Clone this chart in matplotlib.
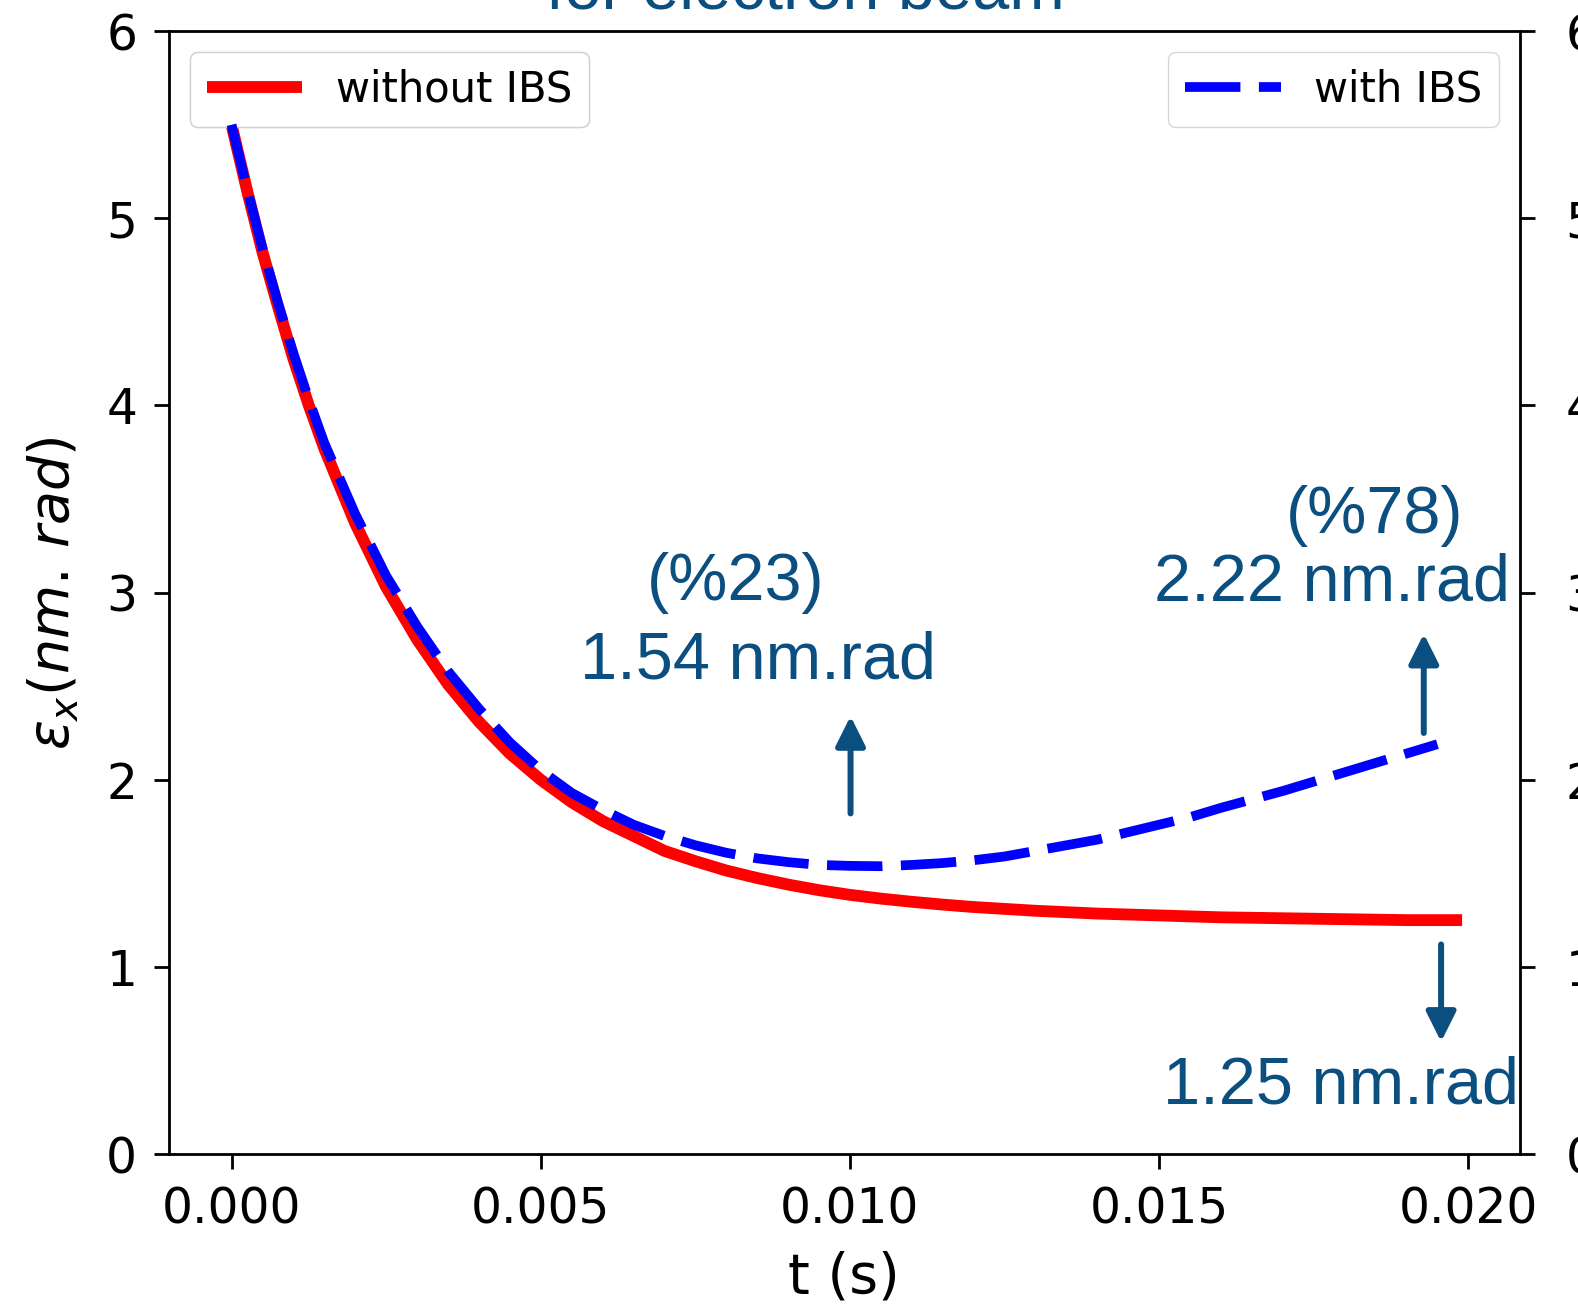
import numpy as np
import matplotlib
matplotlib.use("Agg")
import matplotlib.pyplot as plt

# emittance vs time
t_no = [0.0, 0.00025, 0.0005, 0.00075, 0.001, 0.00125, 0.0015, 0.00175, 0.002,
        0.0025, 0.003, 0.0035, 0.004, 0.0045, 0.005, 0.0055, 0.006, 0.0065, 0.007,
        0.0075, 0.008, 0.0085, 0.009, 0.0095, 0.010, 0.0105, 0.011, 0.0115, 0.012,
        0.013, 0.014, 0.015, 0.016, 0.017, 0.018, 0.019, 0.0199]
eps_no = [5.50, 5.15, 4.82, 4.53, 4.25, 4.00, 3.77, 3.57, 3.37,
          3.03, 2.75, 2.51, 2.31, 2.14, 2.00, 1.88, 1.78, 1.70, 1.62,
          1.565, 1.515, 1.475, 1.44, 1.41, 1.385, 1.365, 1.348, 1.333, 1.32,
          1.30, 1.285, 1.275, 1.265, 1.26, 1.255, 1.25, 1.25]

t_ibs = [0.0, 0.00025, 0.0005, 0.00075, 0.001, 0.00125, 0.0015, 0.00175, 0.002,
         0.0025, 0.003, 0.0035, 0.004, 0.0045, 0.005, 0.0055, 0.006, 0.0065, 0.007,
         0.0075, 0.008, 0.0085, 0.009, 0.0095, 0.010, 0.0105, 0.011, 0.0115, 0.012,
         0.0125, 0.013, 0.0135, 0.014, 0.0145, 0.015, 0.0155, 0.016, 0.0165, 0.017,
         0.0175, 0.018, 0.0185, 0.019, 0.0195]
eps_ibs = [5.50, 5.16, 4.84, 4.55, 4.28, 4.03, 3.80, 3.61, 3.42,
           3.09, 2.82, 2.58, 2.38, 2.20, 2.05, 1.93, 1.84, 1.76, 1.70,
           1.65, 1.61, 1.58, 1.56, 1.545, 1.54, 1.538, 1.545, 1.555, 1.57,
           1.59, 1.62, 1.65, 1.68, 1.72, 1.76, 1.80, 1.85, 1.895, 1.94,
           1.99, 2.04, 2.09, 2.14, 2.19]

yticks = [0, 1, 2, 3, 4, 5, 6]
xticks = [0.000, 0.005, 0.010, 0.015, 0.020]

blue = '#0b4f80'
W, H = 1568, 1301  # coords below were measured at this size

fig = plt.figure(figsize=(15.78, 13.09), dpi=100)
ax = fig.add_axes([168 / W, 1 - 1147 / H, (1510 - 168) / W, (1147 - 31) / H])

ax.plot(t_no, eps_no, color='red', lw=8.5, label='without IBS', solid_capstyle='butt')
ax.set_xlim(-0.00101, 0.02083)
ax.set_ylim(0, 6)
ax.set_xticks(xticks)
ax.set_xticklabels(['%.3f' % v for v in xticks])
ax.set_yticks(yticks)
ax.tick_params(labelsize=35, length=11, width=2, pad=12)
for s in ax.spines.values():
    s.set_linewidth(2)
ax.set_xlabel('t (s)', fontsize=40, labelpad=12)
ax.set_ylabel(r'$\epsilon_x (nm.\,rad)$', fontsize=40, labelpad=18)

leg1 = ax.legend(loc='upper left', fontsize=30, handlelength=2.3)
ax.add_artist(leg1)

ax2 = ax.twinx()
ax2.set_ylim(0, 6)
ax2.set_yticks(yticks)
ax2.tick_params(labelsize=35, length=11, width=2, pad=22)
ax2.plot(t_ibs, eps_ibs, color='blue', lw=7, ls=(0, (5.7, 1.9)), label='with IBS')
ax2.legend(loc='upper right', fontsize=30, handlelength=2.3)

# annotations
tfont = dict(color=blue, fontsize=48, family='Liberation Sans', ha='center', va='center')
akw = dict(arrowstyle='-|>,head_length=0.9,head_width=0.45', mutation_scale=20,
           color=blue, lw=4.3, shrinkA=0, shrinkB=0)
ax.annotate('', xy=(0.01001, 2.34), xytext=(0.01001, 1.82), arrowprops=akw)
ax.annotate('', xy=(0.01928, 2.78), xytext=(0.01928, 2.25), arrowprops=akw)
ax.annotate('', xy=(0.01956, 0.60), xytext=(0.01956, 1.12), arrowprops=akw)

ax.text(0.00815, 3.05, '(%23)', **tfont)
ax.text(0.00851, 2.63, '1.54 nm.rad', **tfont)
ax.text(0.01848, 3.41, '(%78)', **tfont)
ax.text(0.01780, 3.05, '2.22 nm.rad', **tfont)
ax.text(0.01794, 0.36, '1.25 nm.rad', **tfont)

fig.text(800 / W, 1 - 8 / H, 'for electron beam', color=blue, fontsize=48,
         family='Liberation Sans', ha='center', va='baseline')

fig.savefig('out.png', dpi=100)
